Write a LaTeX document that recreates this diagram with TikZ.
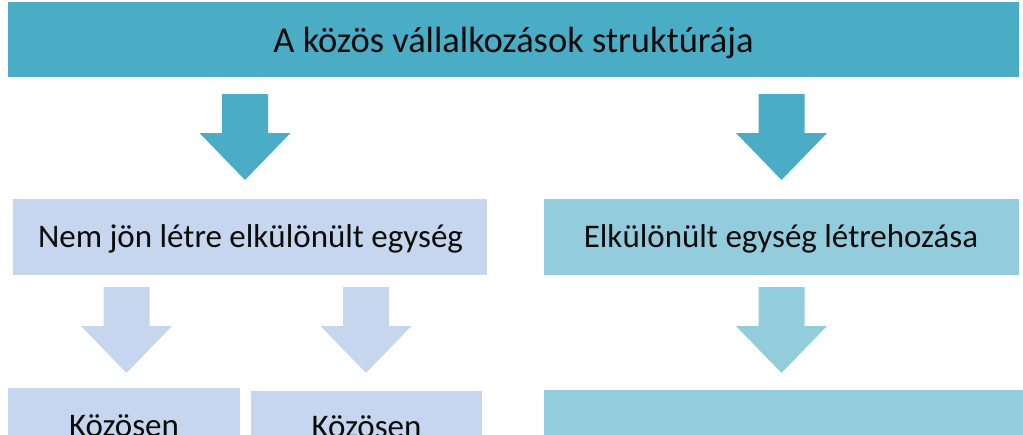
\documentclass[tikz,border=0pt]{standalone}
\usepackage{fontspec}
\setmainfont{Carlito}
\definecolor{teal}{HTML}{4BACC6}
\definecolor{lblue}{HTML}{C6D6EF}
\definecolor{ltteal}{HTML}{93CDDD}
\definecolor{txt}{HTML}{0A0A0A}
\newcommand\blockarr[4]{% name, center x, top y, color
  \fill[#4] (#2-23,#3) -- (#2+23,#3) -- (#2+23,#3+39) -- (#2+45.5,#3+39)
    -- (#2,#3+86) -- (#2-45.5,#3+39) -- (#2-23,#3+39) -- cycle;
  \coordinate (#1) at (#2,#3+86);}
\tikzset{
  lbl/.style={anchor=base, inner sep=0pt, text=txt},
  big/.style={font=\fontsize{36.5}{40}\selectfont},
  mid/.style={font=\fontsize{33}{36}\selectfont}
}
\begin{document}
\begin{tikzpicture}[x=1pt,y=-1pt]
\useasboundingbox (0,0) rectangle (1023,434);
% top bar
\fill[teal] (8,2) rectangle (1019,77);
\node[lbl,big] (title) at (513.5,52) {A közös vállalkozások struktúrája};
% arrows level 1
\blockarr{a1}{245}{94}{teal}
\blockarr{a2}{781.5}{94}{teal}
% level 2 boxes
\fill[lblue] (13,199) rectangle (487,275);
\node[lbl,mid] (nem) at (250.5,247) {Nem jön létre elkülönült egység};
\fill[ltteal] (544,199) rectangle (1019,275);
\node[lbl,mid] (elk) at (781,247) {Elkülönült egység létrehozása};
% arrows level 2
\blockarr{b1}{126.5}{287}{lblue}
\blockarr{b2}{366}{287}{lblue}
\blockarr{b3}{781.5}{287}{ltteal}
% level 3 boxes
\fill[lblue] (8,388) rectangle (240,440);
\node[lbl,mid] (k1) at (124,436) {Közösen};
\fill[lblue] (251,391) rectangle (482,440);
\node[lbl,mid] (k2) at (366.5,437) {Közösen};
\fill[ltteal] (544,390) rectangle (1023,440);
\end{tikzpicture}
\end{document}
